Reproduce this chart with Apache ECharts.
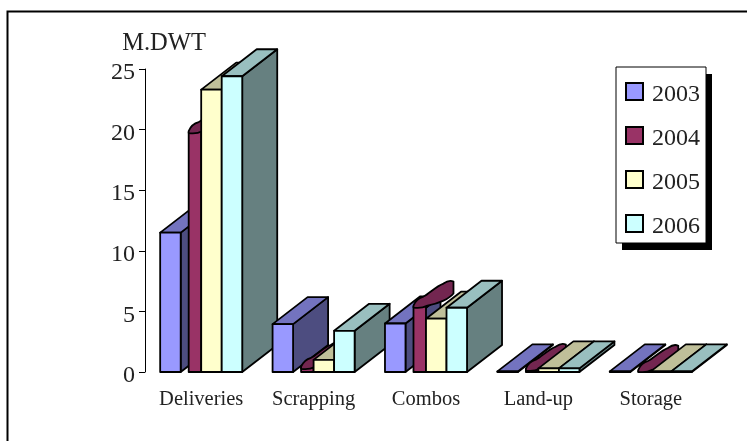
<!DOCTYPE html>
<html>
<head>
<meta charset="utf-8">
<style>html,body{margin:0;padding:0;background:#fff}#chart{width:747px;height:441px}</style>
<script src="https://cdn.jsdelivr.net/npm/echarts@6/dist/echarts.min.js"></script>
</head>
<body>
<div id="chart"></div>
<script>
// Tonnage by activity, million DWT
const categories = ['Deliveries', 'Scrapping', 'Combos', 'Land-up', 'Storage'];
const years = ['2003', '2004', '2005', '2006'];
const values2003 = [11.5, 3.95, 4.0, 0.05, 0.05];
const values2004 = [19.8, 0.35, 5.4, 0.2, 0.1];
const values2005 = [23.3, 1.0, 4.4, 0.3, 0.05];
const values2006 = [24.4, 3.4, 5.3, 0.3, 0.05];
const yTicks = [0, 5, 10, 15, 20, 25];

// front, top and side shades for each year
const shades = [
  { front: '#9999ff', top: '#7373bf', side: '#4d4d80' },
  { front: '#993366', top: '#732650', side: '#4d1a33' },
  { front: '#ffffcc', top: '#bfbf99', side: '#808066' },
  { front: '#ccffff', top: '#99bfbf', side: '#668080' }
];
const DEPTH_X = 35, DEPTH_Y = -27, LINE = 1.8;
const stroke = { stroke: '#000', lineWidth: LINE, lineJoin: 'round' };

function poly(points, fill, z2) {
  return { type: 'polygon', z2, shape: { points }, style: { fill, ...stroke } };
}

// Plain box: front face, receding top and right side
function boxBar(x, w, y, y0, c, z2) {
  return [
    poly([[x + w, y], [x + w + DEPTH_X, y + DEPTH_Y], [x + w + DEPTH_X, y0 + DEPTH_Y], [x + w, y0]], c.side, z2),
    poly([[x, y], [x + w, y], [x + w + DEPTH_X, y + DEPTH_Y], [x + DEPTH_X, y + DEPTH_Y]], c.top, z2 + 1),
    poly([[x, y], [x + w, y], [x + w, y0], [x, y0]], c.front, z2 + 2)
  ];
}

// Slim rounded column with a soft lumpy cap, used for the 2004 series
function roundBar(x, w, y, y0, c, z2) {
  const L = x + 8, R = x + w;
  const cap = 'M' + L + ' ' + (y - 1) +
    'C' + (L + 2) + ' ' + (y - 6) + ' ' + (L + 6) + ' ' + (y - 9) + ' ' + (L + 10) + ' ' + (y - 10) +
    'C' + (L + 16) + ' ' + (y - 13) + ' ' + (L + 22) + ' ' + (y - 20) + ' ' + (L + 30) + ' ' + (y - 23) +
    'C' + (L + 34) + ' ' + (y - 26) + ' ' + (L + 38) + ' ' + (y - 26) + ' ' + (L + 40) + ' ' + (y - 25) +
    'L' + (L + 40) + ' ' + (y - 13) +
    'C' + (L + 36) + ' ' + (y - 8) + ' ' + (L + 26) + ' ' + (y - 3) + ' ' + (L + 14) + ' ' + (y - 1) +
    'C' + (L + 10) + ' ' + (y + 1) + ' ' + (L + 5) + ' ' + (y + 2) + ' ' + L + ' ' + (y + 1) + 'Z';
  return [
    { type: 'path', z2: z2 + 1, shape: { pathData: cap }, style: { fill: c.top, ...stroke } },
    poly([[L, y], [R, y], [R, y0], [L, y0]], c.front, z2)
  ];
}

function makeSeries(name, values, idx) {
  return {
    name,
    type: 'custom',
    itemStyle: { color: shades[idx].front, borderColor: '#000', borderWidth: 1.8 },
    data: values.map((v, i) => [i, v]),
    encode: { x: 0, y: 1 },
    renderItem(params, api) {
      const cat = api.value(0);
      const top = api.coord([cat, api.value(1)]);
      const base = api.coord([cat, 0]);
      const band = api.size([1, 0])[0];
      const slot = band * 0.1825;
      const x = top[0] - 2 * slot + idx * slot;
      // later categories and later years stack over earlier ones
      const z2 = cat * 100 + idx * 10;
      const make = idx === 1 ? roundBar : boxBar;
      return { type: 'group', children: make(x, slot, top[1], base[1], shades[idx], z2) };
    }
  };
}

const chart = echarts.init(document.getElementById('chart'), null, { renderer: 'canvas' });
const serif = '"Liberation Serif", "Times New Roman", serif';

chart.setOption({
  animation: false,
  backgroundColor: '#fff',
  textStyle: { fontFamily: serif, color: '#222' },
  grid: { left: 145, top: 69, width: 562, height: 303 },
  graphic: [{
    type: 'polyline',
    silent: true,
    shape: { points: [[7.5, 441], [7.5, 11.5], [747, 11.5]] },
    style: { fill: 'none', stroke: '#000', lineWidth: 2 }
  }, {
    // hard drop shadow behind the legend box
    type: 'rect',
    silent: true,
    shape: { x: 622, y: 74, width: 90, height: 176 },
    style: { fill: '#000' }
  }],
  legend: {
    orient: 'vertical',
    left: 616,
    top: 67,
    padding: [9, 6, 4, 9],
    itemGap: 13,
    itemWidth: 17,
    itemHeight: 17,
    icon: 'rect',
    data: years,
    backgroundColor: '#fff',
    borderColor: '#000',
    borderWidth: 1,
    formatter: '{t|{name}}',
    textStyle: {
      fontFamily: serif,
      fontSize: 24,
      color: '#222',
      rich: { t: { fontFamily: serif, fontSize: 24, color: '#222', lineHeight: 24, padding: [7, 0, 0, 4] } }
    }
  },
  xAxis: {
    type: 'category',
    data: categories,
    axisLine: { show: false },
    axisTick: { show: false },
    axisLabel: { fontFamily: serif, fontSize: 20.5, color: '#222', margin: 17 }
  },
  yAxis: {
    type: 'value',
    min: yTicks[0],
    max: yTicks[yTicks.length - 1],
    interval: yTicks[1] - yTicks[0],
    name: 'M.DWT',
    nameLocation: 'end',
    nameGap: 13,
    nameTextStyle: { fontFamily: serif, fontSize: 24.5, color: '#222', padding: [0, 0, 0, 38] },
    splitLine: { show: false },
    axisLine: { show: true, lineStyle: { color: '#000', width: 1 } },
    axisTick: { show: true, length: 6, lineStyle: { color: '#000', width: 1 } },
    axisLabel: { fontFamily: serif, fontSize: 24, color: '#222', margin: 10, verticalAlign: 'top', lineHeight: 8 }
  },
  series: [
    makeSeries(years[0], values2003, 0),
    makeSeries(years[1], values2004, 1),
    makeSeries(years[2], values2005, 2),
    makeSeries(years[3], values2006, 3)
  ]
});
</script>
</body>
</html>
